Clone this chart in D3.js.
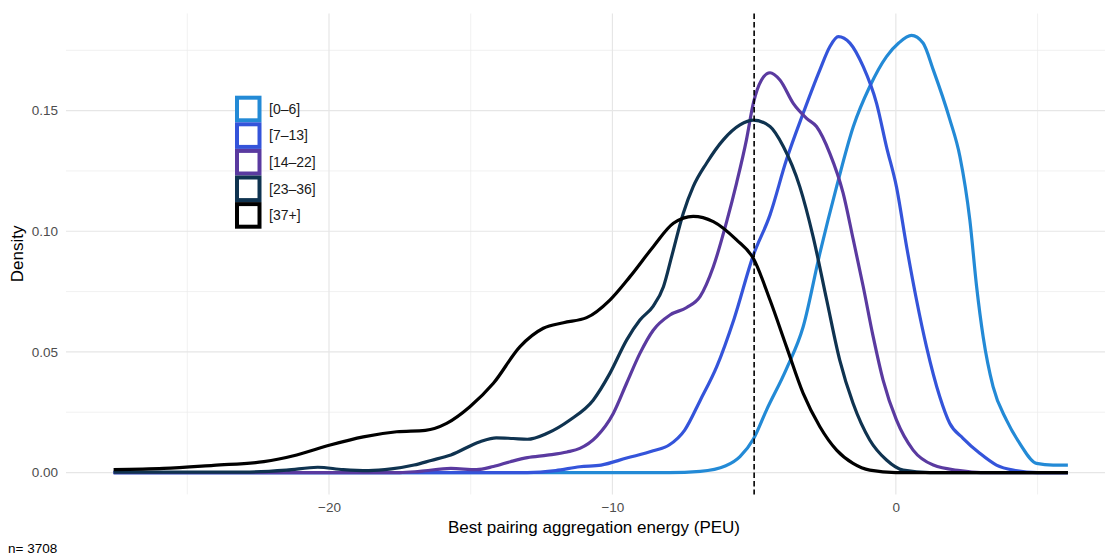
<!DOCTYPE html>
<html>
<head>
<meta charset="utf-8">
<script src="https://cdn.jsdelivr.net/npm/d3@7"></script>
<style>
  html, body { margin: 0; padding: 0; background: #fff; }
  svg { display: block; font-family: "Liberation Sans", Arial, Helvetica, sans-serif; }
</style>
</head>
<body>
<svg id="chart" width="1105" height="556"></svg>
<script>
// Age groups shown in the legend
const groups = ["[0–6]", "[7–13]", "[14–22]", "[23–36]", "[37+]"];
const groupColors = ["#238AD6", "#3454DA", "#5A3AA0", "#0F3350", "#000000"];

// Kernel density estimates, [energy (PEU), density] per group
const density0to6 = [
  [-27.6, 0], [-15, 0], [-8, 0], [-6.9, 0.0005], [-6.0, 0.0028], [-5.5, 0.0066],
  [-5.03, 0.0138], [-4.56, 0.026], [-3.86, 0.043], [-3.27, 0.0604], [-2.68, 0.0909],
  [-2.09, 0.1185], [-1.5, 0.1434], [-0.92, 0.160], [-0.33, 0.1724], [0.1, 0.178],
  [0.55, 0.1812], [0.96, 0.178], [1.32, 0.1669], [1.9, 0.1465], [2.26, 0.131],
  [2.61, 0.1047], [2.85, 0.077], [3.08, 0.0563], [3.43, 0.0356], [3.9, 0.0218],
  [4.37, 0.0121], [4.96, 0.0038], [5.55, 0.0031], [6.07, 0.0031]
];
const density7to13 = [
  [-27.6, 0], [-13, 0], [-12, 0.0008], [-11.15, 0.0024], [-10.4, 0.0031], [-9.5, 0.006],
  [-8.56, 0.009], [-8.0, 0.0114], [-7.45, 0.0176], [-6.9, 0.030], [-6.32, 0.0439],
  [-5.7, 0.064], [-5.03, 0.090], [-4.44, 0.1068], [-3.86, 0.1296], [-3.27, 0.1489],
  [-2.68, 0.1669], [-2.33, 0.1765], [-2.03, 0.1807], [-1.62, 0.178], [-1.15, 0.1682],
  [-0.68, 0.153], [-0.33, 0.135], [0.02, 0.1185], [0.38, 0.0936], [0.73, 0.0715],
  [1.08, 0.0522], [1.55, 0.0314], [1.9, 0.0204], [2.37, 0.0142], [2.96, 0.008],
  [3.55, 0.0031], [4.14, 0.001], [5.0, 0], [6.07, 0]
];
const density14to22 = [
  [-27.6, 0], [-17.5, 0], [-16.8, 0.0005], [-15.7, 0.0017], [-14.8, 0.0012],
  [-14.2, 0.0025], [-13.6, 0.0045], [-13.0, 0.0062], [-12.3, 0.0072], [-11.6, 0.0085],
  [-11.15, 0.010], [-10.56, 0.0149], [-9.97, 0.0245], [-9.5, 0.037], [-9.03, 0.0494],
  [-8.56, 0.059], [-7.97, 0.0653], [-7.38, 0.0684], [-6.91, 0.0729], [-6.44, 0.0853],
  [-5.97, 0.104], [-5.62, 0.120], [-5.27, 0.138], [-5.03, 0.153], [-4.74, 0.1627],
  [-4.44, 0.1657], [-4.09, 0.1627], [-3.62, 0.153], [-3.15, 0.1468], [-2.8, 0.1434],
  [-2.33, 0.1323], [-1.86, 0.1158], [-1.5, 0.0964], [-1.15, 0.077], [-0.8, 0.0563],
  [-0.45, 0.0383], [0.02, 0.0218], [0.61, 0.0093], [1.32, 0.0031], [2.26, 0.0008],
  [3.0, 0], [6.07, 0]
];
const density23to36 = [
  [-27.6, 0.0002], [-23, 0.0002], [-21.5, 0.001], [-20.4, 0.0022], [-19.5, 0.0012],
  [-18.6, 0.0008], [-17.8, 0.0015], [-17.0, 0.0031], [-16.4, 0.005], [-15.7, 0.0073],
  [-14.67, 0.0128], [-14.1, 0.0144], [-13.5, 0.0141], [-13.0, 0.0138], [-12.3, 0.0163],
  [-11.5, 0.0218], [-10.68, 0.030], [-10.09, 0.0411], [-9.5, 0.0549], [-9.03, 0.0632],
  [-8.56, 0.069], [-8.2, 0.077], [-7.9, 0.090], [-7.5, 0.1075], [-7.15, 0.1185],
  [-6.68, 0.1282], [-6.09, 0.1379], [-5.5, 0.1441], [-5.03, 0.1461], [-4.44, 0.1434],
  [-3.97, 0.1351], [-3.39, 0.1185], [-2.92, 0.0978], [-2.44, 0.0715], [-1.98, 0.0466],
  [-1.51, 0.0287], [-0.92, 0.0135], [-0.33, 0.0052], [0.26, 0.001], [1.2, 0], [6.07, 0]
];
const density37plus = [
  [-27.6, 0.0012], [-25.84, 0.0017], [-24.08, 0.003], [-22.3, 0.0045], [-21.14, 0.0073],
  [-19.96, 0.0114], [-18.79, 0.0148], [-17.61, 0.0169], [-16.6, 0.0175], [-15.85, 0.0204],
  [-15.03, 0.0273], [-14.2, 0.037], [-13.26, 0.0522], [-12.44, 0.0598], [-11.73, 0.0621],
  [-10.91, 0.0642], [-10.09, 0.0715], [-9.38, 0.0812], [-8.56, 0.0936], [-7.85, 0.1033],
  [-7.15, 0.1062], [-6.44, 0.104], [-5.62, 0.0964], [-5.03, 0.0888], [-4.44, 0.0715],
  [-3.86, 0.0522], [-3.27, 0.0328], [-2.68, 0.019], [-2.09, 0.0093], [-1.51, 0.0038],
  [-0.92, 0.001], [0, 0], [6.07, 0]
];
const groupDensities = [density0to6, density7to13, density14to22, density23to36, density37plus];

// Reference threshold (dashed line) and axis ticks
const threshold = -5;
const xMajorTicks = [-20, -10, 0];
const xMinorTicks = [-25, -15, -5, 5];
const yMajorTicks = [0, 0.05, 0.10, 0.15];
const yMinorTicks = [0.025, 0.075, 0.125, 0.175];
const sampleSize = 3708;

const svg = d3.select("#chart");
const panel = { left: 66, right: 1115.5, top: 13.5, bottom: 494.4 };

const x = d3.scaleLinear().domain([-29.28, 7.75]).range([panel.left, panel.right]);
const y = d3.scaleLinear().domain([-0.00906, 0.19026]).range([panel.bottom, panel.top]);

// Grid
const grid = svg.append("g");
grid.selectAll(".ymin").data(yMinorTicks).join("line")
  .attr("x1", panel.left).attr("x2", 1105)
  .attr("y1", d => y(d)).attr("y2", d => y(d))
  .attr("stroke", "#ebebeb").attr("stroke-width", 0.7);
grid.selectAll(".xmin").data(xMinorTicks).join("line")
  .attr("y1", panel.top).attr("y2", panel.bottom)
  .attr("x1", d => x(d)).attr("x2", d => x(d))
  .attr("stroke", "#ebebeb").attr("stroke-width", 0.7);
grid.selectAll(".ymaj").data(yMajorTicks).join("line")
  .attr("x1", panel.left).attr("x2", 1105)
  .attr("y1", d => y(d)).attr("y2", d => y(d))
  .attr("stroke", "#e6e6e6").attr("stroke-width", 1.2);
grid.selectAll(".xmaj").data(xMajorTicks).join("line")
  .attr("y1", panel.top).attr("y2", panel.bottom)
  .attr("x1", d => x(d)).attr("x2", d => x(d))
  .attr("stroke", "#e6e6e6").attr("stroke-width", 1.2);

// Axes (labels only)
const xAxis = svg.append("g")
  .attr("transform", `translate(0,${panel.bottom})`)
  .call(d3.axisBottom(x).tickValues(xMajorTicks).tickSize(0).tickPadding(8));
const yAxis = svg.append("g")
  .attr("transform", `translate(${panel.left},0)`)
  .call(d3.axisLeft(y).tickValues(yMajorTicks).tickFormat(d3.format(".2f")).tickSize(0).tickPadding(8));
[xAxis, yAxis].forEach(a => {
  a.select(".domain").remove();
  a.selectAll("text").attr("fill", "#4d4d4d").style("font-size", "13.5px")
    .style("font-family", "'Liberation Sans', Arial, sans-serif");
});

// Density curves
const line = d3.line()
  .x(d => x(d[0]))
  .y(d => y(d[1]))
  .curve(d3.curveMonotoneX);

svg.append("g").selectAll("path").data(groupDensities).join("path")
  .attr("d", line)
  .attr("fill", "none")
  .attr("stroke", (d, i) => groupColors[i])
  .attr("stroke-width", 3.2)
  .attr("stroke-linejoin", "round")
  .attr("stroke-linecap", "butt");

// Threshold marker
svg.append("line")
  .attr("x1", x(threshold)).attr("x2", x(threshold))
  .attr("y1", panel.top).attr("y2", panel.bottom)
  .attr("stroke", "#000").attr("stroke-width", 1.6)
  .attr("stroke-dasharray", "5.5,3");

// Axis titles
svg.append("text")
  .attr("x", 594).attr("y", 533)
  .attr("text-anchor", "middle")
  .style("font-size", "17px").attr("fill", "#000")
  .text("Best pairing aggregation energy (PEU)");
svg.append("text")
  .attr("transform", `translate(23,${(panel.top + panel.bottom) / 2}) rotate(-90)`)
  .attr("text-anchor", "middle")
  .style("font-size", "17px").attr("fill", "#000")
  .text("Density");

// Caption
svg.append("text")
  .attr("x", 8).attr("y", 553)
  .style("font-size", "13.5px").attr("fill", "#000")
  .text(`n= ${sampleSize}`);

// Legend
const legend = svg.append("g").attr("transform", "translate(235,95.7)");
const keyH = 26.6;
const items = legend.selectAll("g").data(groups).join("g")
  .attr("transform", (d, i) => `translate(0,${i * keyH})`);
items.append("rect")
  .attr("x", 2).attr("y", 2)
  .attr("width", 22.5).attr("height", keyH - 4)
  .attr("fill", "#fff")
  .attr("stroke", (d, i) => groupColors[i])
  .attr("stroke-width", 4);
items.append("text")
  .attr("x", 34).attr("y", keyH / 2)
  .attr("dy", "0.35em")
  .style("font-size", "14px").attr("fill", "#1a1a1a")
  .text(d => d);
</script>
</body>
</html>
